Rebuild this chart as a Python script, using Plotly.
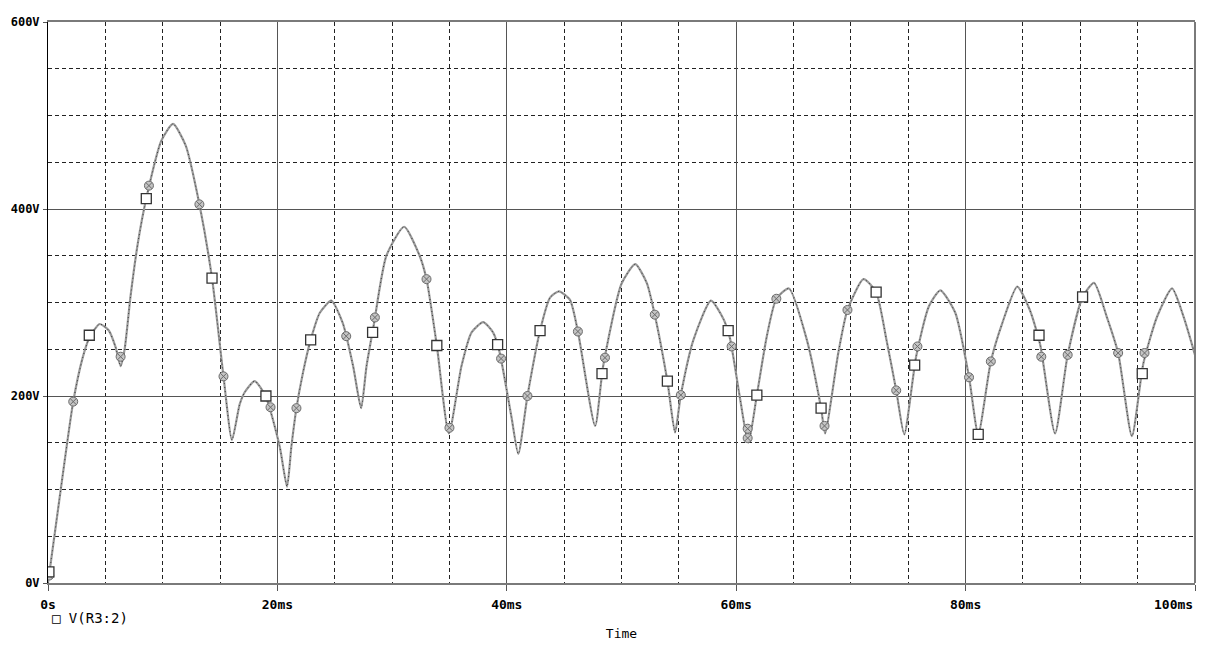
import plotly.graph_objects as go

# Curve: time (ms) and voltage (V)
time_ms = [0, 1.0, 2.2, 3.0, 3.6, 4.5, 5.3, 5.9, 6.33, 6.68, 7.2, 7.84, 8.6, 9.88, 10.9,
           12.0, 13.2, 14.3, 15.3, 16.04, 16.71, 17.15, 18.02, 19.0, 20.2,
           20.84, 21.22, 21.66, 22.23, 22.9, 23.7, 24.7, 25.7, 26.6, 27.3, 27.77,
           28.4, 29.5, 31.05, 32.4, 33.0, 33.9, 34.95, 36.05, 36.93, 37.94, 38.8,
           39.35, 40.4, 41.0, 41.8, 42.9, 43.76, 44.55, 45.5, 46.2, 47.7, 48.4,
           50.0, 51.2, 52.2, 52.9, 54.0, 54.67, 55.17, 56.27, 57.8, 58.9, 59.45,
           60.3, 61.06, 61.8, 62.67, 63.5, 64.6, 66.16, 67.4, 67.75, 68.9, 69.7,
           71.1, 72.2, 73.1, 73.95, 74.65, 75.7, 76.8, 77.8, 79.1, 80.3, 81.1,
           82.2, 83.2, 84.5, 85.6, 86.5, 87.8, 88.9, 90.2, 91.2, 92.3, 93.3, 94.5,
           95.5, 96.7, 98.0, 99.0, 100]
volts = [0, 90, 194, 240, 262, 277, 270, 252, 232, 250, 307, 364, 413, 473, 491,
         468, 405, 326, 221, 153, 191, 204, 216, 199, 146,
         103, 146, 187, 225, 260, 289, 302, 278, 232, 187, 232,
         276, 350, 381, 350, 325, 254, 160, 232, 268, 279, 268,
         248, 178, 138, 200, 270, 305, 312, 303, 269, 168, 232,
         320, 341, 321, 287, 216, 161, 201, 260, 302, 282, 262,
         200, 150, 201, 264, 304, 315, 260, 187, 160, 246, 292,
         325, 311, 260, 206, 159, 243, 296, 313, 289, 220, 159,
         237, 278, 317, 292, 255, 160, 244, 306, 321, 285, 246, 157,
         235, 285, 315, 285, 244]

# Square markers (time ms, V)
sq_t = [0.08, 3.6, 8.57, 14.3, 19.0, 22.9, 28.3, 33.9, 39.2, 42.9, 48.3, 54.0, 59.3,
        61.8, 67.4, 72.2, 75.56, 81.1, 86.4, 90.2, 95.4]
sq_v = [12, 265, 411, 326, 200, 260, 268, 254, 255, 270, 224, 216, 270,
        201, 187, 311, 233, 159, 265, 306, 224]

# Crossed markers (time ms, V)
cx_t = [0.1, 2.2, 6.33, 8.8, 13.2, 15.3, 19.4, 21.66, 26.0, 28.5, 33.0, 35.0, 39.5,
        41.8, 46.2, 48.56, 52.9, 55.17, 59.6, 61.0, 61.0, 63.5, 67.7, 69.7, 73.95,
        75.8, 80.3, 82.2, 86.6, 88.9, 93.3, 95.6]
cx_v = [8, 194, 242, 425, 405, 221, 188, 187, 264, 284, 325, 166, 240,
        200, 269, 241, 287, 201, 253, 165, 155, 304, 168, 292, 206,
        253, 220, 237, 242, 244, 246, 246]

x_ticks = [0, 20, 40, 60, 80, 100]
x_labels = ["0s", "20ms", "40ms", "60ms", "80ms", "100ms"]
y_ticks = [0, 200, 400, 600]
y_labels = ["0V", "200V", "400V", "600V"]
series_name = "V(R3:2)"

mono = "DejaVu Sans Mono"
tick_font = dict(family=mono, size=13, weight="bold", color="black")

# the last label sits left of its tick (right-aligned at the plot edge): draw it as an annotation
x_text = x_labels[:-1] + [""]

fig = go.Figure()
fig.add_trace(go.Scatter(x=time_ms, y=volts, mode="lines",
                         line=dict(color="#9a9a9a", width=2.2, shape="spline", smoothing=0.6),
                         showlegend=False, hoverinfo="skip"))
fig.add_trace(go.Scatter(x=time_ms, y=volts, mode="lines",
                         line=dict(color="#222222", width=0.8, dash="1px,3px", shape="spline", smoothing=0.6),
                         showlegend=False, hoverinfo="skip"))
fig.add_trace(go.Scatter(x=cx_t, y=cx_v, mode="markers",
                         marker=dict(symbol="circle-x", size=9, color="#c4c4c4", line=dict(color="#6a6a6a", width=1)),
                         showlegend=False))
fig.add_trace(go.Scatter(x=sq_t, y=sq_v, mode="markers", name=series_name,
                         marker=dict(symbol="square", size=10, color="white", line=dict(color="#333333", width=1.3)),
                         showlegend=False))

fig.update_layout(
    width=1201, height=651,
    margin=dict(l=40, r=14, t=14, b=76),
    paper_bgcolor="white", plot_bgcolor="white",
    font=dict(family=mono, size=12, color="black"),
    showlegend=False,
    shapes=[dict(type="line", xref="paper", yref="paper", x0=1, x1=1, y0=0, y1=1,
                 line=dict(color="#7a7a7a", width=2))],
    annotations=[
        dict(text="\u25a1 " + series_name, xref="paper", yref="paper",
             x=0.0, y=-0.0624, xanchor="left", yanchor="middle", showarrow=False,
             xshift=2, font=dict(family=mono, size=14, color="black")),
        dict(text=x_labels[-1], xref="x", yref="paper", x=x_ticks[-1], y=0,
             xanchor="right", yanchor="middle", yshift=-21, showarrow=False,
             font=tick_font),
    ],
)
fig.update_xaxes(
    range=[0, 100], tickvals=x_ticks, ticktext=x_text,
    tickfont=tick_font,
    showline=True, linecolor="#7a7a7a", linewidth=2, mirror=True,
    ticks="outside", ticklen=6, tickcolor="#555", ticklabelstandoff=2,
    showgrid=True, gridcolor="#555555", gridwidth=1,
    zeroline=False, automargin=False,
    minor=dict(dtick=5, showgrid=True, gridcolor="#222222", griddash="4px,3px", gridwidth=1),
    title=dict(text="Time", font=dict(family=mono, size=13), standoff=18),
)
fig.update_yaxes(
    range=[0, 600], tickvals=y_ticks, ticktext=y_labels,
    tickfont=dict(family=mono, size=12, weight="bold", color="black"),
    showline=True, linecolor="black", linewidth=1, mirror=False,
    ticks="outside", ticklen=4, tickcolor="#555", ticklabelstandoff=1,
    ticklabeloverflow="allow",
    showgrid=True, gridcolor="#555555", gridwidth=1,
    zeroline=False, automargin=False,
    minor=dict(dtick=50, showgrid=True, gridcolor="#222222", griddash="4px,3px", gridwidth=1),
)

fig.write_html("out.html")
